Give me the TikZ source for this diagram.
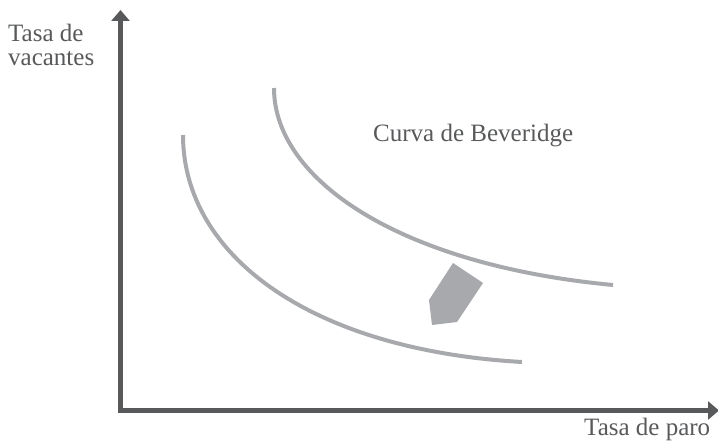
\documentclass[tikz,border=0pt]{standalone}
\usepackage{fontspec}
\setmainfont{Liberation Serif}
\usepackage{tikz}
\usetikzlibrary{arrows.meta}
\definecolor{axisgray}{HTML}{58595B}
\definecolor{curvegray}{HTML}{A7A9AC}
\tikzstyle{axislabel} = [inner sep=0pt, text=axisgray, font=\fontsize{25}{24}\selectfont]
\tikzstyle{axisline} = [draw=axisgray, line width=5pt, -{Triangle[length=11pt,width=18pt]}]
\tikzstyle{bevcurve} = [draw=curvegray, line width=4pt]
\tikzstyle{shiftmark} = [fill=curvegray]

\begin{document}
\begin{tikzpicture}[x=1pt, y=-1pt]
  \useasboundingbox (0,0) rectangle (718,441);
  % Place nodes
  \coordinate (origin) at (118,410.5);
  \coordinate (ytop) at (120.5,10);
  \coordinate (xend) at (719,410.5);
  \node [axislabel, anchor=north west, align=left] (vlabel) at (8,24) {Tasa de\\vacantes};
  \node [axislabel, anchor=base west] (xlabel) at (584,435) {Tasa de paro};
  \node [axislabel, anchor=base west] (curvelabel) at (373,142) {Curva de Beveridge};
  \coordinate (ostart) at (274,88);
  \coordinate (oend) at (613,285);
  \coordinate (istart) at (183,135);
  \coordinate (iend) at (522,362);
  % Draw edges
  \path [axisline] (origin -| ytop) ++(0,2.5) -- (ytop);
  \path [axisline] (origin) -- (xend);
  \path [bevcurve] (ostart) .. controls (274,180) and (400,265) .. (oend);
  \path [bevcurve] (istart) .. controls (183,255) and (310,350) .. (iend);
  \path [shiftmark] (453,263) -- (483,283) -- (457,322) -- (432,325) -- (429,300) -- cycle;
\end{tikzpicture}
\end{document}
